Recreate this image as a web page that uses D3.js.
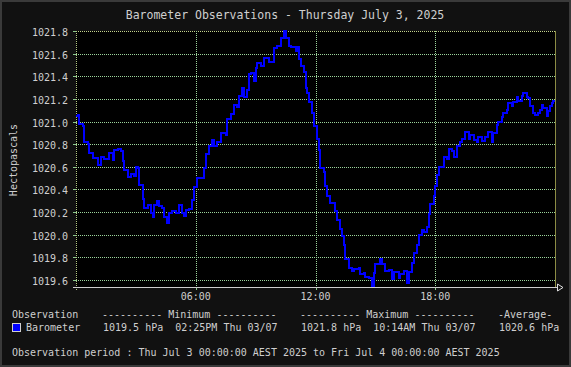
<!DOCTYPE html>
<html>
<head>
<meta charset="utf-8">
<script src="https://cdn.jsdelivr.net/npm/d3@7/dist/d3.min.js"></script>
<style>
  html, body { margin:0; padding:0; background:#111; }
  svg { display:block; }
  text { font-family: "DejaVu Sans Mono", monospace; fill:#cfcfcf; white-space:pre; }
</style>
</head>
<body>
<div id="chart"></div>
<script>
// minutes after midnight, Thu Jul 3 2025
const obsMinutes = [0,5,10,20,25,35,40,50,65,75,85,100,110,115,125,135,140,145,155,165,175,180,185,190,200,205,215,225,230,235,245,250,260,265,275,280,290,300,310,320,325,330,340,350,355,365,375,385,390,400,410,415,425,435,450,455,465,475,485,490,500,505,515,520,525,535,540,545,555,565,575,580,590,595,605,615,625,630,640,645,655,660,665,670,675,685,690,695,700,705,710,715,725,730,735,745,750,755,765,770,780,785,795,800,805,810,820,830,835,850,855,865,870,880,890,895,900,910,915,920,930,940,950,955,965,970,975,985,995,1000,1010,1015,1025,1030,1040,1045,1055,1060,1065,1075,1080,1085,1090,1095,1105,1110,1115,1120,1130,1135,1145,1155,1160,1170,1180,1185,1195,1205,1210,1220,1230,1240,1250,1255,1265,1270,1280,1285,1295,1300,1310,1315,1325,1330,1340,1345,1355,1360,1365,1375,1380,1390,1395,1400,1405,1415,1420,1425,1430,1435,1440];
const obsHpa = [1021.05,1021.06,1020.98,1020.96,1020.82,1020.80,1020.72,1020.68,1020.62,1020.69,1020.67,1020.72,1020.66,1020.75,1020.76,1020.74,1020.65,1020.57,1020.51,1020.54,1020.52,1020.60,1020.59,1020.44,1020.32,1020.24,1020.26,1020.19,1020.16,1020.26,1020.30,1020.25,1020.24,1020.16,1020.10,1020.19,1020.21,1020.19,1020.26,1020.19,1020.17,1020.22,1020.23,1020.31,1020.42,1020.50,1020.50,1020.59,1020.71,1020.78,1020.84,1020.78,1020.82,1020.90,1020.88,1021.02,1021.07,1021.15,1021.13,1021.23,1021.30,1021.22,1021.28,1021.42,1021.43,1021.36,1021.47,1021.52,1021.49,1021.56,1021.56,1021.53,1021.53,1021.65,1021.67,1021.74,1021.80,1021.74,1021.67,1021.66,1021.66,1021.62,1021.66,1021.55,1021.49,1021.44,1021.30,1021.25,1021.17,1021.17,1021.08,1020.96,1020.85,1020.75,1020.59,1020.55,1020.43,1020.34,1020.28,1020.28,1020.21,1020.13,1020.05,1019.99,1019.91,1019.79,1019.71,1019.68,1019.70,1019.71,1019.65,1019.66,1019.63,1019.62,1019.55,1019.66,1019.74,1019.74,1019.79,1019.74,1019.68,1019.69,1019.61,1019.67,1019.67,1019.62,1019.65,1019.68,1019.57,1019.67,1019.75,1019.84,1019.91,1020.00,1020.04,1020.02,1020.07,1020.18,1020.27,1020.34,1020.43,1020.53,1020.60,1020.60,1020.69,1020.69,1020.67,1020.76,1020.74,1020.69,1020.78,1020.82,1020.85,1020.91,1020.85,1020.88,1020.84,1020.82,1020.86,1020.83,1020.86,1020.91,1020.82,1020.90,1020.97,1021.00,1021.04,1021.08,1021.10,1021.16,1021.14,1021.17,1021.22,1021.18,1021.23,1021.25,1021.22,1021.21,1021.14,1021.08,1021.06,1021.08,1021.10,1021.15,1021.12,1021.05,1021.09,1021.14,1021.16,1021.18,1021.18];

const yTickValues = [1019.6,1019.8,1020.0,1020.2,1020.4,1020.6,1020.8,1021.0,1021.2,1021.4,1021.6,1021.8];
const xTickMinutes = [360, 720, 1080];
const xTickLabels = ["06:00", "12:00", "18:00"];

const titleText = "Barometer Observations - Thursday July 3, 2025";
const yLabelText = "Hectopascals";
const legendHeader = ["Observation", "---------- Minimum ----------", "---------- Maximum ----------", "-Average-"];
const legendRow = ["Barometer", "1019.5 hPa  02:25PM Thu 03/07", "1021.8 hPa  10:14AM Thu 03/07", "1020.6 hPa"];
const periodText = "Observation period : Thu Jul 3 00:00:00 AEST 2025 to Fri Jul 4 00:00:00 AEST 2025";

const W = 571, H = 367;
const plot = {left:76, top:31, right:555, bottom:287};

const svg = d3.select("#chart").append("svg")
    .attr("width", W)
    .attr("height", H);

// background + frame
svg.append("rect").attr("width", W).attr("height", H).attr("fill", "#111");
svg.append("rect").attr("x", 1).attr("y", 1).attr("width", W - 2).attr("height", H - 2)
    .attr("fill", "none").attr("stroke", "#3a3a3a").attr("stroke-width", 2);

svg.append("rect")
    .attr("x", plot.left).attr("y", plot.top)
    .attr("width", plot.right - plot.left).attr("height", plot.bottom - plot.top)
    .attr("fill", "#000");

const x = d3.scaleLinear().domain([0, 1440]).range([plot.left, plot.right]);
const y = d3.scaleLinear().domain([1019.5385, 1021.8]).range([plot.bottom, plot.top]);

const px = v => Math.round(v) + 0.5;

// horizontal grid + y ticks
const grid = svg.append("g").attr("shape-rendering", "crispEdges");
grid.selectAll("line.hg")
  .data(yTickValues)
  .enter().append("line")
    .attr("class", "hg")
    .attr("x1", plot.left).attr("x2", plot.right)
    .attr("y1", d => px(y(d))).attr("y2", d => px(y(d)))
    .attr("stroke", d => d === 1021.8 ? "#c4d48c" : "#9cd49c")
    .attr("stroke-dasharray", "1,1");

grid.selectAll("line.yt")
  .data(yTickValues)
  .enter().append("line")
    .attr("x1", plot.left - 3).attr("x2", plot.left)
    .attr("y1", d => px(y(d))).attr("y2", d => px(y(d)))
    .attr("stroke", "#8cc88c");

// vertical grid + x ticks
grid.selectAll("line.vg")
  .data(xTickMinutes)
  .enter().append("line")
    .attr("x1", d => px(x(d))).attr("x2", d => px(x(d)))
    .attr("y1", plot.top).attr("y2", plot.bottom)
    .attr("stroke", "#9cd49c")
    .attr("stroke-dasharray", "1,1");

grid.selectAll("line.xt")
  .data(xTickMinutes)
  .enter().append("line")
    .attr("x1", d => px(x(d))).attr("x2", d => px(x(d)))
    .attr("y1", plot.bottom).attr("y2", plot.bottom + 3)
    .attr("stroke", "#8cc88c");

// left and right edges
grid.append("line")
    .attr("x1", px(plot.left)).attr("x2", px(plot.left))
    .attr("y1", plot.top).attr("y2", plot.bottom + 3)
    .attr("stroke", "#b4c884").attr("stroke-dasharray", "1,1");
grid.append("line")
    .attr("x1", px(plot.right)).attr("x2", px(plot.right))
    .attr("y1", plot.top).attr("y2", plot.bottom)
    .attr("stroke", "#8c8c44");

// data line
const line = d3.line()
    .x((d, i) => x(obsMinutes[i]))
    .y(d => y(d))
    .curve(d3.curveStepAfter);

svg.append("path")
    .datum(obsHpa)
    .attr("d", line)
    .attr("fill", "none")
    .attr("stroke", "#0000ff")
    .attr("stroke-width", 2)
    .attr("shape-rendering", "crispEdges");

// x axis with arrow
svg.append("line")
    .attr("x1", plot.left - 3).attr("x2", plot.right + 2)
    .attr("y1", plot.bottom + 0.5).attr("y2", plot.bottom + 0.5)
    .attr("stroke", "#cfcfcf").attr("shape-rendering", "crispEdges");
svg.append("path")
    .attr("d", "M" + (plot.right + 2.5) + "," + (plot.bottom - 3) +
               " L" + (plot.right + 8) + "," + (plot.bottom + 0.5) +
               " L" + (plot.right + 2.5) + "," + (plot.bottom + 4) + " Z")
    .attr("fill", "none").attr("stroke", "#e0e0e0");

// tick labels
svg.append("g")
  .selectAll("text")
  .data(yTickValues)
  .enter().append("text")
    .attr("x", 68)
    .attr("y", d => Math.round(y(d)) + 5)
    .attr("text-anchor", "end")
    .attr("font-size", 10)
    .text(d => d.toFixed(1));

svg.append("g")
  .selectAll("text")
  .data(xTickMinutes)
  .enter().append("text")
    .attr("x", d => x(d))
    .attr("y", 300)
    .attr("text-anchor", "middle")
    .attr("font-size", 10)
    .text((d, i) => xTickLabels[i]);

// title + y label
svg.append("text")
    .attr("x", 285).attr("y", 19)
    .attr("text-anchor", "middle")
    .attr("font-size", 11.5)
    .attr("fill", "#d4d4d4")
    .text(titleText);

svg.append("text")
    .attr("transform", "translate(16.5,160) rotate(-90)")
    .attr("text-anchor", "middle")
    .attr("font-size", 10)
    .text(yLabelText);

// legend
const colX = [12, 102, 300, 498];
svg.append("g").selectAll("text")
  .data(legendHeader)
  .enter().append("text")
    .attr("x", (d, i) => colX[i]).attr("y", 318)
    .attr("font-size", 10)
    .text(d => d);

const rowX = [26, 103, 301, 499];
svg.append("g").selectAll("text")
  .data(legendRow)
  .enter().append("text")
    .attr("x", (d, i) => rowX[i]).attr("y", 331)
    .attr("font-size", 10)
    .text(d => d);

svg.append("rect")
    .attr("x", 12.5).attr("y", 323.5).attr("width", 8).attr("height", 8)
    .attr("fill", "#0000ff").attr("stroke", "#cfcfcf");

svg.append("text")
    .attr("x", 12).attr("y", 356)
    .attr("font-size", 10)
    .text(periodText);
</script>
</body>
</html>
